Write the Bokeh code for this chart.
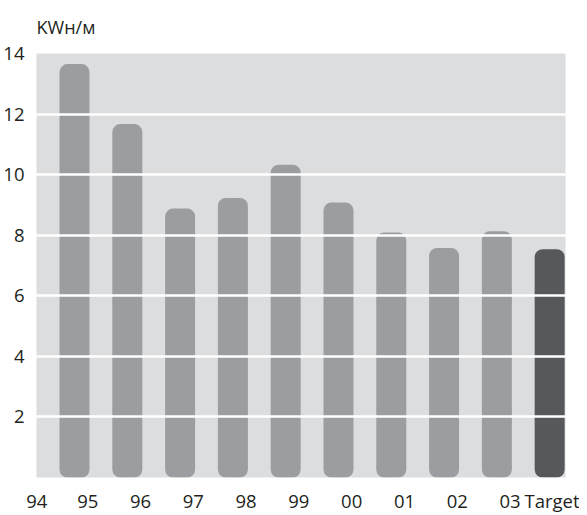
from bokeh.plotting import figure
from bokeh.models import Range1d, FixedTicker, ColumnDataSource
from bokeh.embed import file_html
from bokeh.resources import INLINE

# ---- data ----
categories = ["95", "96", "97", "98", "99", "00", "01", "02", "03", "Target"]
values = [13.65, 11.67, 8.88, 9.23, 10.33, 9.08, 8.09, 7.58, 8.13, 7.54]
tick_labels = ["94", "95", "96", "97", "98", "99", "00", "01", "02", "03", "Target"]
y_ticks = [2, 4, 6, 8, 10, 12, 14]
unit_label = "KWн/м"

FONT = "Open Sans"
TXT = "#231f20"
BAR = "#9b9da0"
TARGET = "#57585b"
BG = "#dcdddf"

X0, X1 = 0.28, 10.3

xs = list(range(1, len(categories) + 1))
colors = [TARGET if c == "Target" else BAR for c in categories]
src = ColumnDataSource(dict(x=xs, top=values, color=colors, cat=categories))

p = figure(
    frame_width=529, frame_height=424,
    x_range=Range1d(X0, X1), y_range=Range1d(0, 14),
    output_backend="svg", toolbar_location=None,
    min_border_left=28, min_border_right=14, min_border_top=53, min_border_bottom=5,
    background_fill_color=BG, border_fill_color="white",
    outline_line_color=None,
)

p.vbar(x="x", top="top", bottom=0, width=0.568, color="color", line_color=None,
       border_radius=8, source=src)

# grid drawn over the bars
p.xgrid.visible = False
p.ygrid.ticker = FixedTicker(ticks=[t for t in y_ticks if t < 14])
p.ygrid.grid_line_color = "white"
p.ygrid.grid_line_width = 2.5
p.ygrid.level = "annotation"

p.yaxis.ticker = FixedTicker(ticks=y_ticks)
p.yaxis.axis_line_color = None
p.yaxis.major_tick_line_color = None
p.yaxis.minor_tick_line_color = None
p.yaxis.major_label_standoff = 6
p.yaxis.major_label_text_font = FONT
p.yaxis.major_label_text_font_size = "18.5px"
p.yaxis.major_label_text_color = TXT

# x labels: year labels sit between bars, "Target" under its bar
label_x = [max(i + 0.25, X0 + 0.005) for i in range(len(tick_labels) - 1)] + [len(categories) + 0.08]
p.xaxis.ticker = FixedTicker(ticks=label_x)
p.xaxis.major_label_overrides = {x: t for x, t in zip(label_x, tick_labels)}
p.xaxis.axis_line_color = None
p.xaxis.major_tick_line_color = None
p.xaxis.minor_tick_line_color = None
p.xaxis.major_label_standoff = 4
p.xaxis.major_label_text_font = FONT
p.xaxis.major_label_text_font_size = "18.5px"
p.xaxis.major_label_text_color = TXT

p.title.text = unit_label
p.title.text_font = FONT
p.title.text_font_style = "normal"
p.title.text_font_size = "18px"
p.title.text_color = TXT
p.title.align = "left"
p.title.vertical_align = "top"
p.title.standoff = 26

open("out.html", "w").write(file_html(p, INLINE))
